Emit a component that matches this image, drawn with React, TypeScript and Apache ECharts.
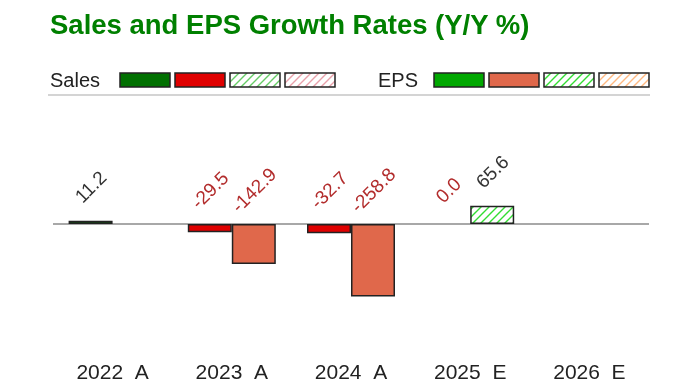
import React, { useEffect, useRef } from "react";
import * as echarts from "echarts";

const categories = ["2022\u00a0\u00a0A", "2023\u00a0\u00a0A", "2024\u00a0\u00a0A", "2025\u00a0\u00a0E", "2026\u00a0\u00a0E"];
const estimated = [false, false, false, true, true];
const salesGrowth: (number | null)[] = [11.2, -29.5, -32.7, 0.0, null];
const epsGrowth: (number | null)[] = [null, -142.9, -258.8, 65.6, null];

const FONT = '"Liberation Sans", Arial, sans-serif';

function hatch(color: string) {
  const c = document.createElement("canvas");
  c.width = 8;
  c.height = 8;
  const ctx = c.getContext("2d")!;
  ctx.fillStyle = "#ffffff";
  ctx.fillRect(0, 0, 8, 8);
  ctx.strokeStyle = color;
  ctx.lineWidth = 1.4;
  ctx.beginPath();
  ctx.moveTo(-2, 10); ctx.lineTo(10, -2);
  ctx.moveTo(-6, 6); ctx.lineTo(6, -6);
  ctx.moveTo(2, 14); ctx.lineTo(14, 2);
  ctx.stroke();
  return { image: c, repeat: "repeat", imageWidth: 8, imageHeight: 8 } as any;
}

export default function App() {
  const ref = useRef<HTMLDivElement>(null);
  useEffect(() => {
    if (!ref.current) return;
    const chart = echarts.init(ref.current, undefined, { renderer: "svg" });

    const palette = {
      sales: {
        pos: "#007000",
        neg: "#e00000",
        estPos: hatch("#66cc66"),
        estNeg: hatch("#e8a0aa"),
      },
      eps: {
        pos: "#00a800",
        neg: "#e0684b",
        estPos: hatch("#33dd33"),
        estNeg: hatch("#ffb880"),
      },
    };

    const fillFor = (kind: "sales" | "eps", v: number, est: boolean) => {
      const p = palette[kind];
      if (est) return v >= 0 ? p.estPos : p.estNeg;
      return v >= 0 ? p.pos : p.neg;
    };

    const build = (kind: "sales" | "eps", arr: (number | null)[]) =>
      arr.map((v, i) =>
        v == null
          ? null
          : {
              value: v,
              itemStyle: {
                color: fillFor(kind, v, estimated[i]),
                borderColor: "#222",
                borderWidth: v === 0 ? 0 : 1.5,
              },
              label: { color: v > 0 ? "#333333" : "#b22c2c" },
            }
      );

    const labelCfg = {
      show: true,
      position: "top",
      distance: 34,
      rotate: 45,
      align: "center",
      verticalAlign: "middle",
      fontSize: 19,
      fontFamily: FONT,
      formatter: (p: any) => Number(p.value).toFixed(1),
    };

    const legendItems = [
      { label: "Sales", x: 50, sx: 120, fills: [palette.sales.pos, palette.sales.neg, palette.sales.estPos, palette.sales.estNeg] },
      { label: "EPS", x: 378, sx: 434, fills: [palette.eps.pos, palette.eps.neg, palette.eps.estPos, palette.eps.estNeg] },
    ];
    const graphics: any[] = [
      {
        type: "text",
        left: 50,
        top: 10,
        style: {
          text: "Sales and EPS Growth Rates (Y/Y %)",
          fill: "#008000",
          font: `bold 27.5px ${FONT}`,
        },
      },
      {
        type: "line",
        shape: { x1: 48, y1: 95, x2: 650, y2: 95 },
        style: { stroke: "#d4d4d4", lineWidth: 2 },
      },
    ];
    legendItems.forEach((g) => {
      graphics.push({
        type: "text",
        x: g.x,
        y: 80,
        style: { text: g.label, fill: "#222", font: `20px ${FONT}`, verticalAlign: "middle" },
      });
      g.fills.forEach((f, i) => {
        graphics.push({
          type: "rect",
          shape: { x: g.sx + i * 55, y: 73, width: 50, height: 14 },
          style: { fill: f, stroke: "#222", lineWidth: 1.5 },
        });
      });
    });

    chart.setOption({
      animation: false,
      grid: { left: 53, width: 596, top: 112, height: 224 },
      xAxis: {
        type: "category",
        data: categories,
        axisLine: { show: false, onZero: false },
        axisTick: { show: false },
        axisLabel: { fontSize: 21, fontFamily: FONT, color: "#222", margin: 25 },
      },
      yAxis: { type: "value", min: -400, max: 400, show: false, splitLine: { show: false } },
      graphic: graphics,
      series: [
        {
          name: "Sales",
          type: "bar",
          barWidth: 44,
          barGap: "0%",
          data: build("sales", salesGrowth),
          label: labelCfg,
          z: 3,
          markLine: {
            silent: true,
            symbol: "none",
            label: { show: false },
            lineStyle: { color: "#a8a8a8", width: 2, type: "solid" },
            data: [{ yAxis: 0 }],
            z: 1,
          },
        },
        {
          name: "EPS",
          type: "bar",
          barWidth: 44,
          barGap: "0%",
          data: build("eps", epsGrowth),
          label: labelCfg,
          z: 3,
        },
      ],
    });
    return () => chart.dispose();
  }, []);
  return <div ref={ref} style={{ position: "fixed", left: 0, top: 0, width: 700, height: 387 }} />;
}
